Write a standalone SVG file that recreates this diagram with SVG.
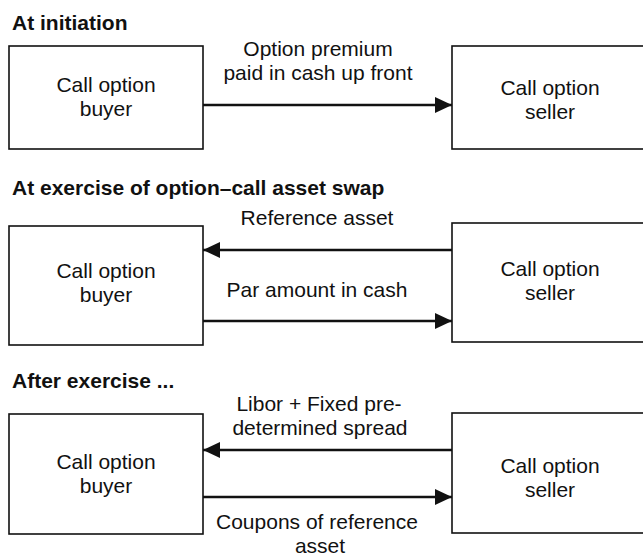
<svg xmlns="http://www.w3.org/2000/svg" width="643" height="558" viewBox="0 0 643 558">
<defs>
<style>
.bg{fill:#ffffff}
.box{fill:#ffffff;stroke:#111;stroke-width:1.6}
.t{font-family:"Liberation Sans",Arial,Helvetica,sans-serif;font-size:21px;fill:#111;text-anchor:middle}
.h{font-family:"Liberation Sans",Arial,Helvetica,sans-serif;font-size:21px;font-weight:bold;fill:#111}
.c{stroke:#111;stroke-width:2.6;fill:none}
</style>
<marker id="ah" markerUnits="userSpaceOnUse" markerWidth="18" markerHeight="16" refX="17" refY="8" orient="auto">
<path d="M0,0 L17,8 L0,16 z" fill="#111"/>
</marker>
</defs>
<rect class="bg" x="0" y="0" width="643" height="558"/>

<text class="h" x="12" y="30">At initiation</text>
<text class="h" x="12" y="195">At exercise of option–call asset swap</text>
<text class="h" x="12" y="388">After exercise ...</text>

<g id="buyer1">
<rect class="box" x="9" y="46" width="194" height="103"/>
<text class="t" x="106" y="92">Call option</text>
<text class="t" x="106" y="116">buyer</text>
</g>
<g id="seller1">
<rect class="box" x="452" y="46" width="200" height="103"/>
<text class="t" x="550" y="95">Call option</text>
<text class="t" x="550" y="119">seller</text>
</g>

<g id="buyer2">
<rect class="box" x="9" y="226" width="194" height="119"/>
<text class="t" x="106" y="278">Call option</text>
<text class="t" x="106" y="302">buyer</text>
</g>
<g id="seller2">
<rect class="box" x="452" y="223" width="200" height="119"/>
<text class="t" x="550" y="276">Call option</text>
<text class="t" x="550" y="300">seller</text>
</g>

<g id="buyer3">
<rect class="box" x="9" y="414" width="194" height="120"/>
<text class="t" x="106" y="469">Call option</text>
<text class="t" x="106" y="493">buyer</text>
</g>
<g id="seller3">
<rect class="box" x="452" y="413" width="200" height="120"/>
<text class="t" x="550" y="473">Call option</text>
<text class="t" x="550" y="497">seller</text>
</g>

<g id="connectors">
<line class="c" x1="203" y1="105" x2="452" y2="105" marker-end="url(#ah)"/>
<line class="c" x1="452" y1="250" x2="203" y2="250" marker-end="url(#ah)"/>
<line class="c" x1="203" y1="321" x2="452" y2="321" marker-end="url(#ah)"/>
<line class="c" x1="452" y1="450" x2="203" y2="450" marker-end="url(#ah)"/>
<line class="c" x1="203" y1="497" x2="452" y2="497" marker-end="url(#ah)"/>
<text class="t" x="318" y="56">Option premium</text>
<text class="t" x="318" y="80">paid in cash up front</text>
<text class="t" x="317" y="225">Reference asset</text>
<text class="t" x="317" y="297">Par amount in cash</text>
<text class="t" x="319" y="411">Libor + Fixed pre-</text>
<text class="t" x="320" y="435">determined spread</text>
<text class="t" x="317" y="529">Coupons of reference</text>
<text class="t" x="320" y="553">asset</text>
</g>
</svg>
